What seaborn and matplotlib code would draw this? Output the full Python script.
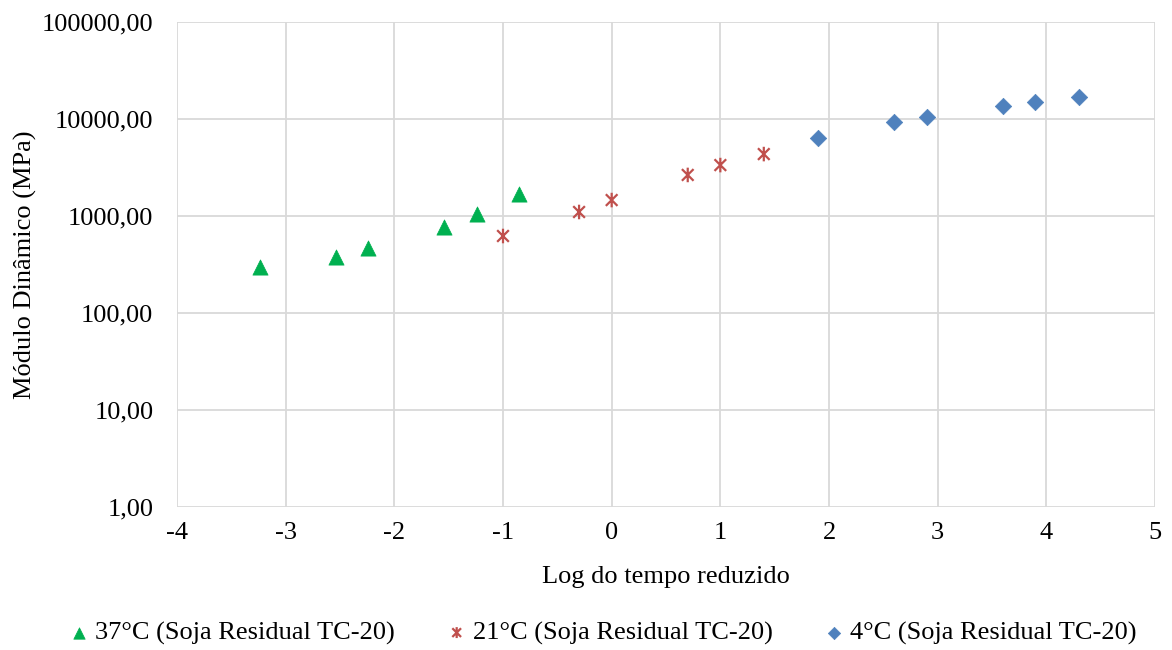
import numpy as np
import pandas as pd
import matplotlib
matplotlib.use("Agg")
import matplotlib.pyplot as plt
from matplotlib.path import Path
from matplotlib.ticker import FixedLocator, FuncFormatter
import seaborn as sns

# ---- data ----
x_37 = [-3.24, -2.54, -2.24, -1.54, -1.24, -0.85]
y_37 = [298, 378, 468, 770, 1050, 1690]
x_21 = [-1.0, -0.3, 0.0, 0.7, 1.0, 1.4]
y_21 = [622, 1100, 1460, 2650, 3350, 4350]
x_4 = [1.9, 2.6, 2.9, 3.6, 3.9, 4.3]
y_4 = [6370, 9310, 10490, 13620, 14970, 16870]
labels = ["37°C (Soja Residual TC-20)", "21°C (Soja Residual TC-20)", "4°C (Soja Residual TC-20)"]
x_ticks = [-4, -3, -2, -1, 0, 1, 2, 3, 4, 5]
y_ticks = [1, 10, 100, 1000, 10000, 100000]

sns.set_theme(style="white")
plt.rcParams['font.family'] = ['Liberation Serif', 'DejaVu Serif']
plt.rcParams['text.color'] = 'black'

star = Path([(-1, -1), (1, 1), (-1, 1), (1, -1), (0, -1.25), (0, 1.25)],
            [Path.MOVETO, Path.LINETO, Path.MOVETO, Path.LINETO, Path.MOVETO, Path.LINETO])

fig = plt.figure(figsize=(11.72, 6.5), dpi=100)
ax = fig.add_axes([177/1172, 1 - 507/650, (1155-177)/1172, (507-22)/650])

series = [
    (x_37, y_37, labels[0], "^", "#00B050", 120, dict(edgecolor="#00B050", linewidth=0.5)),
    (x_21, y_21, labels[1], star, "#C0504D", 110, dict(edgecolor="#C0504D", facecolor="none", linewidth=1.6)),
    (x_4, y_4, labels[2], "D", "#4F81BD", 70, dict(edgecolor="#4F81BD", linewidth=0.5)),
]
for xs, ys, lab, mk, col, s, kw in series:
    df = pd.DataFrame({"x": xs, "y": ys})
    sns.scatterplot(data=df, x="x", y="y", ax=ax, marker=mk, color=col, s=s,
                    label=lab, zorder=3, clip_on=False, **kw)

ax.set_yscale("log")
ax.set_xlim(-4, 5)
ax.set_ylim(1, 100000)
ax.xaxis.set_major_locator(FixedLocator(x_ticks))
ax.yaxis.set_major_locator(FixedLocator(y_ticks))
ax.yaxis.set_minor_locator(FixedLocator([]))
ax.yaxis.set_major_formatter(FuncFormatter(lambda v, p: f"{v:.2f}".replace(".", ",")))
ax.xaxis.set_major_formatter(FuncFormatter(lambda v, p: f"{int(v)}"))
ax.grid(True, color="#D9D9D9", linewidth=1.3)
ax.set_axisbelow(True)
for sp in ax.spines.values():
    sp.set_visible(False)
ax.tick_params(axis="y", length=0, labelsize=19, colors="black", pad=17)
ax.tick_params(axis="x", length=0, labelsize=19, colors="black", pad=11)
ax.set_xlabel("Log do tempo reduzido", fontsize=19, color="black")
ax.set_ylabel("Módulo Dinâmico (MPa)", fontsize=19, color="black")
ax.yaxis.set_label_coords(25/1172, 1 - 265/650, transform=fig.transFigure)
ax.xaxis.set_label_coords(666/1172, 1 - 577/650, transform=fig.transFigure)
ax.xaxis.label.set_va("center")
ax.yaxis.label.set_va("center")

h, l = ax.get_legend_handles_labels()
ax.get_legend().remove()
fig.legend(h, l, loc="center", bbox_to_anchor=(600/1172, 1 - 633/650), ncol=3, frameon=False,
           fontsize=19, columnspacing=1.75, handletextpad=0.0, markerscale=0.75,
           handlelength=1.2, labelcolor="black")

fig.savefig("out.png", dpi=100)
